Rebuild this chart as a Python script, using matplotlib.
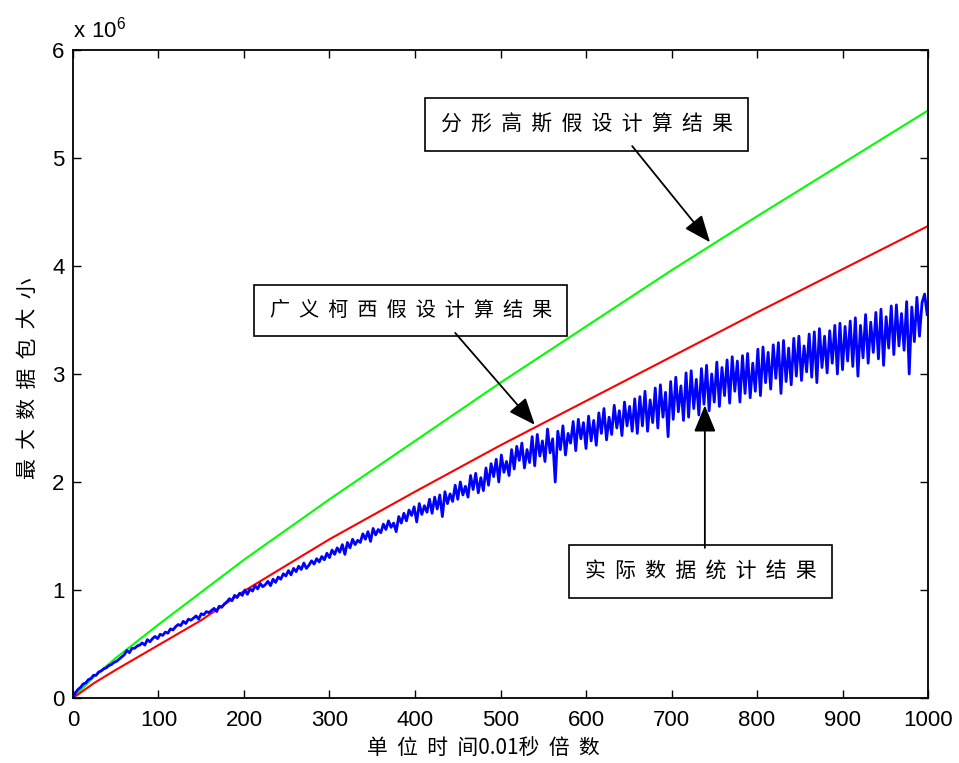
import numpy as np
import matplotlib
matplotlib.use('Agg')
import matplotlib.pyplot as plt

plt.rcParams['font.family'] = ['Liberation Sans', 'DejaVu Sans']
plt.rcParams['mathtext.fontset'] = 'custom'
plt.rcParams['mathtext.rm'] = 'Liberation Sans'
CJK = ['Noto Sans CJK SC', 'DejaVu Sans']

# --- data (y values in units of 1e6) ---
curve_x = [0, 25, 50, 100, 150, 200, 300, 400, 500, 600, 700, 800, 900, 1000]
fgn_vals = [0, 0.20, 0.37, 0.68, 0.98, 1.28, 1.84, 2.38, 2.92, 3.44, 3.96, 4.46, 4.95, 5.44]
cauchy_vals = [0, 0.14, 0.26, 0.49, 0.72, 0.99, 1.47, 1.91, 2.34, 2.75, 3.16, 3.57, 3.97, 4.37]

# measured series, one value every 3 time units (0..999)
blue_step = 3
measured_vals = [
    0.00, 0.05, 0.08, 0.10, 0.13, 0.14, 0.17, 0.18, 0.21, 0.21, 0.24, 0.25, 0.27, 0.28, 0.30, 0.31, 0.33, 0.34, 0.36, 0.38,
    0.40, 0.44, 0.42, 0.46, 0.46, 0.48, 0.49, 0.51, 0.49, 0.54, 0.52, 0.55, 0.57, 0.55, 0.59, 0.58, 0.61, 0.60, 0.64, 0.63,
    0.66, 0.68, 0.67, 0.71, 0.69, 0.73, 0.72, 0.74, 0.76, 0.73, 0.78, 0.77, 0.80, 0.79, 0.81, 0.83, 0.80, 0.85, 0.84, 0.87,
    0.89, 0.92, 0.90, 0.95, 0.93, 0.97, 0.95, 1.00, 0.96, 1.01, 0.99, 1.04, 1.01, 1.06, 1.03, 1.05, 1.08, 1.04, 1.10, 1.07,
    1.12, 1.10, 1.15, 1.13, 1.18, 1.14, 1.20, 1.17, 1.22, 1.19, 1.25, 1.20, 1.23, 1.27, 1.24, 1.29, 1.26, 1.31, 1.28, 1.34,
    1.30, 1.37, 1.33, 1.39, 1.35, 1.42, 1.33, 1.44, 1.39, 1.47, 1.42, 1.46, 1.44, 1.52, 1.47, 1.54, 1.45, 1.57, 1.51, 1.56,
    1.53, 1.61, 1.56, 1.64, 1.58, 1.62, 1.54, 1.68, 1.62, 1.71, 1.64, 1.74, 1.69, 1.77, 1.63, 1.80, 1.70, 1.78, 1.72, 1.84,
    1.71, 1.86, 1.75, 1.88, 1.68, 1.91, 1.80, 1.89, 1.82, 1.97, 1.84, 2.00, 1.88, 1.96, 1.86, 2.06, 1.93, 2.08, 1.90, 2.04,
    1.92, 2.13, 1.97, 2.17, 2.05, 2.21, 2.00, 2.25, 2.09, 2.19, 2.06, 2.30, 2.12, 2.33, 2.20, 2.36, 2.13, 2.30, 2.18, 2.42,
    2.15, 2.44, 2.24, 2.38, 2.19, 2.49, 2.27, 2.40, 2.00, 2.47, 2.30, 2.52, 2.25, 2.45, 2.36, 2.56, 2.29, 2.58, 2.40, 2.55,
    2.31, 2.61, 2.38, 2.57, 2.34, 2.64, 2.45, 2.68, 2.39, 2.60, 2.44, 2.71, 2.50, 2.66, 2.43, 2.74, 2.52, 2.70, 2.47, 2.77,
    2.45, 2.79, 2.52, 2.84, 2.47, 2.76, 2.55, 2.87, 2.50, 2.90, 2.60, 2.83, 2.42, 2.93, 2.58, 2.97, 2.65, 2.89, 2.57, 3.01,
    2.60, 3.03, 2.68, 2.95, 2.62, 3.05, 2.72, 3.08, 2.66, 3.00, 2.74, 3.11, 2.70, 3.06, 2.80, 3.13, 2.73, 3.16, 2.84, 3.12,
    2.74, 3.17, 2.82, 3.19, 2.78, 3.10, 2.84, 3.23, 2.80, 3.25, 2.92, 3.20, 2.86, 3.27, 2.96, 3.29, 2.82, 3.31, 2.93, 3.24,
    2.90, 3.33, 2.98, 3.35, 2.94, 3.26, 3.02, 3.37, 2.97, 3.39, 2.92, 3.42, 3.06, 3.35, 3.01, 3.40, 3.10, 3.45, 3.00, 3.47,
    3.04, 3.44, 3.12, 3.49, 3.07, 3.52, 2.98, 3.45, 3.15, 3.55, 3.10, 3.48, 3.20, 3.57, 3.14, 3.60, 3.08, 3.53, 3.24, 3.63,
    3.18, 3.64, 3.26, 3.56, 3.22, 3.67, 3.00, 3.62, 3.30, 3.71, 3.35, 3.66, 3.74, 3.55,
]
measured_x = np.arange(len(measured_vals)) * blue_step

x_ticks = list(range(0, 1001, 100))
y_ticks = [0, 1, 2, 3, 4, 5, 6]

fig = plt.figure(figsize=(9.59, 7.63), dpi=100)
ax = fig.add_axes([0.0761, 0.0852, 0.8916, 0.8493])

ax.plot(curve_x, fgn_vals, color='#00ff00', lw=1.5)
ax.plot(curve_x, cauchy_vals, color='#ff0000', lw=1.5)
ax.plot(measured_x, measured_vals, color='#0000ff', lw=2.0)

ax.set_xlim(0, 1000)
ax.set_ylim(0, 6)
ax.set_xticks(x_ticks)
ax.set_yticks(y_ticks)
ax.tick_params(direction='in', length=6, width=1.0, top=True, right=True,
               labelsize=16, pad=6)
ax.tick_params(axis='x', pad=9)
for s in ax.spines.values():
    s.set_linewidth(1.3)

ax.text(0, 1.012, r'$\mathregular{x\ 10^{6}}$', transform=ax.transAxes,
        ha='left', va='bottom', fontsize=16)

# axis titles
fig.text(28 / 959, 1 - 378 / 763, '最  大  数  据  包  大  小', family=CJK,
         fontsize=15, rotation=90, ha='center', va='center')
fig.text(483 / 959, 1 - 748 / 763, '单  位  时  间0.01秒  倍  数', family=CJK,
         fontsize=15, ha='center', va='center')

box = dict(boxstyle='square,pad=0.75', fc='white', ec='black', lw=1.2)
ax.text(601, 5.31, '分  形  高  斯  假  设  计  算  结  果', ha='center', va='center',
        family=CJK, fontsize=15, bbox=box)
ax.text(395, 3.59, '广  义  柯  西  假  设  计  算  结  果', ha='center', va='center',
        family=CJK, fontsize=14.5, bbox=box)
ax.text(734, 1.17, '实  际  数  据  统  计  结  果', ha='center', va='center',
        family=CJK, fontsize=15, bbox=box)

arrow = dict(arrowstyle='-|>,head_length=1.1,head_width=0.45', color='black',
             lw=1.3, mutation_scale=15, shrinkA=0, shrinkB=0)
ax.annotate('', xy=(745, 4.22), xytext=(654, 5.11), arrowprops=arrow)
ax.annotate('', xy=(540, 2.53), xytext=(447, 3.38), arrowprops=arrow)
ax.annotate('', xy=(739, 2.71), xytext=(739, 1.39), arrowprops=arrow)

fig.savefig('out.png', dpi=100)
